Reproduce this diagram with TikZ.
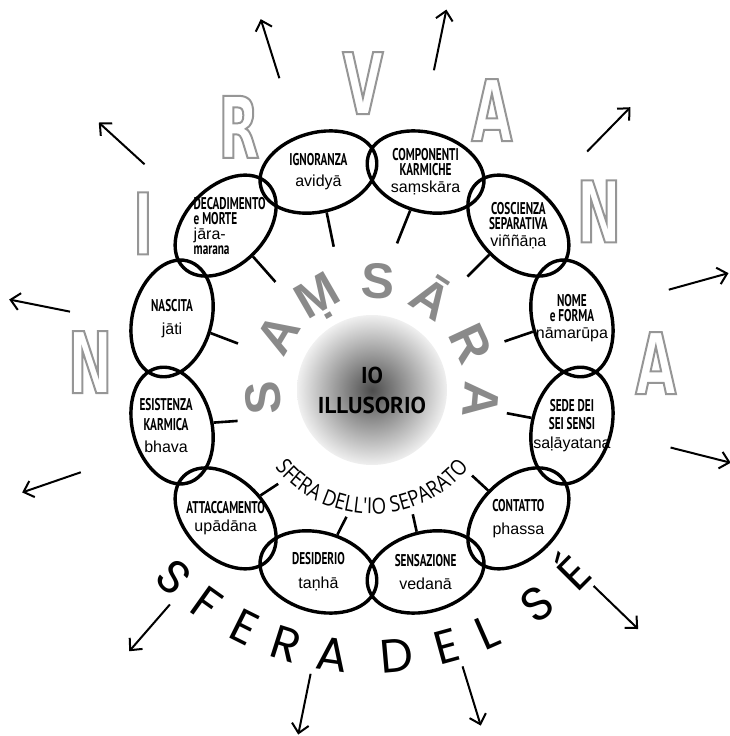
\documentclass[tikz,border=0pt]{standalone}
\usepackage{fontspec}
\usepackage{xcolor}
\usepackage{tikz}
\usetikzlibrary{arrows.meta, calc, decorations.text, shapes.geometric}
\setmainfont{Liberation Sans}
\newfontfamily\stagefont[FakeStretch=0.66]{PT Sans}
\newfontfamily\egofont{PT Sans}
\newfontfamily\sktfont{Liberation Sans}
\newfontfamily\rimfont[FakeStretch=0.62]{DejaVu Sans}
\newfontfamily\selffont{Poppins}
\newfontfamily\sepfont[FakeStretch=0.85]{Open Sans}
\newcommand{\stagecaps}{\fontsize{17}{15}\stagefont\bfseries}
\newcommand{\stageskt}{\fontsize{16}{15}\sktfont\mdseries}
% hollow letters: stroke only, grey
\newcommand{\hollow}[1]{\special{pdf:literal direct 1 Tr 2 w 0.59 0.59 0.59 RG}#1\special{pdf:literal direct 0 Tr}}
\definecolor{samgray}{RGB}{138,138,138}
\definecolor{nirgray}{RGB}{150,150,150}
\tikzset{
    stage/.style={ellipse, draw=black, line width=3.4pt, minimum width=79pt, minimum height=119pt, inner sep=0pt},
    stagetext/.style={align=center, inner sep=0pt, font=\stagecaps},
    spoke/.style={line width=2.6pt},
    ray/.style={line width=2pt, -{Straight Barb[length=9pt, width=17pt, line width=2pt]}},
    samletter/.style={text=samgray, font=\fontsize{50}{50}\sktfont\bfseries, text height=36pt, text depth=0pt, inner sep=0pt},
    nirletter/.style={text=nirgray, font=\fontsize{85}{85}\rimfont\bfseries, inner sep=0pt},
    selfletter/.style={font=\fontsize{47}{47}\selffont, text height=33pt, text depth=0pt, inner sep=0pt}
}

\begin{document}
\begin{tikzpicture}[x=1pt, y=1pt]
    \useasboundingbox (0,0) rectangle (729,736);
    \coordinate (R) at (372,364);
    \coordinate (G) at (372,346);

    % central sphere
    \node [circle, minimum size=150pt, inner sep=0pt, inner color=black!70, outer color=black!6] (core) at (G) {};
    \node [font=\fontsize{23}{30}\egofont\bfseries, align=center, inner sep=0pt] (ego) at (G) {IO\\ILLUSORIO};

    % the twelve links
    \foreach \ang [count=\i] in {105,75,45,15,-15,-45,-75,-105,-135,-165,165,135}
        \node [stage, rotate=\ang] (e\i) at ($(R)+(\ang:207)$) {};

    \node [stagetext] (t1) at (e1.center) {IGNORANZA\\[6pt]\stageskt avidyā};
    \node [stagetext] (t2) at (e2.center) {COMPONENTI\\KARMICHE\\[2pt]\stageskt saṃskāra};
    \node [stagetext] (t3) at (e3.center) {COSCIENZA\\SEPARATIVA\\[2pt]\stageskt viññāṇa};
    \node [stagetext] (t4) at (e4.center) {NOME\\e FORMA\\[2pt]\stageskt nāmarūpa};
    \node [stagetext] (t5) at (e5.center) {SEDE DEI\\[3pt]SEI SENSI\\[4pt]\stageskt saḷāyatana};
    \node [stagetext] (t6) at (e6.center) {CONTATTO\\[8pt]\stageskt phassa};
    \node [stagetext] (t7) at (e7.center) {SENSAZIONE\\[8pt]\stageskt vedanā};
    \node [stagetext] (t8) at (e8.center) {DESIDERIO\\[9pt]\stageskt taṇhā};
    \node [stagetext] (t9) at (e9.center) {ATTACCAMENTO\\[3pt]\stageskt upādāna};
    \node [stagetext] (t10) at ([xshift=-6pt]e10.center) {ESISTENZA\\[5pt]KARMICA\\[7pt]\stageskt bhava};
    \node [stagetext] (t11) at (e11.center) {NASCITA\\[8pt]\stageskt jāti};
    \node [stagetext, align=left] (t12) at ([xshift=4pt]e12.center) {DECADIMENTO\\e MORTE\\\stageskt jāra-\\marana};

    % spokes towards the centre
    \foreach \i/\ang/\rin in {1/107/131, 2/79/131, 3/45/135, 4/13/136, 5/-17/141, 6/-46/144, 7/-74/148, 8/-100/147, 9/-130/146, 10/-160/143, 11/168/137, 12/137/132} {
        \coordinate (s\i) at ($(R)+(\ang:\rin)$);
        \draw [spoke] (s\i) -- (e\i);
    }

    % rays
    \foreach \ang [count=\i] in {107.5,78.4,45.7,15.5,-14.2,-44,-72.9,-101.5,-131,-161,168.7,137.6} {
        \coordinate (a\i) at ($(R)+(\ang:308)$);
        \coordinate (b\i) at ($(R)+(\ang:370)$);
        \draw [ray] (a\i) -- (b\i);
    }

    % SAMSARA
    \foreach \ang/\ltr [count=\i] in {184/S, 149/A, 120/Ṃ, 87/S, 57/Ā, 25/R, -5/A}
        \node [samletter, rotate=\ang-90] (sam\i) at ($(G)+(\ang:110)$) {\ltr};

    % NIRVANA
    \foreach \ang/\rad/\ltr [count=\i] in {178/282/N, 147/273/I, 118.5/279/R, 91.8/289/V, 65.4/288/A, 35.3/278/N, 1.8/284/A}
        \node [nirletter] (nir\i) at ($(R)+(\ang:\rad)$) {\hollow{\ltr}};

    % SFERA DEL SE
    \foreach \ang/\ltr [count=\i] in {-134/S, -125.5/F, -116.5/E, -107.6/R, -98/A, -85/D, -74.7/E, -66.2/L, -54.5/S, -44.9/É}
        \node [selfletter, rotate=\ang+90] (self\i) at ($(R)+(\ang:285)$) {\ltr};

    % inner arc text
    \path [decorate, decoration={text along path, text align=center,
        text={|\fontsize{22}{22}\sepfont|SFERA DELL'IO SEPARATO}}]
        ($(G)+(-152:124)$) arc [start angle=-152, end angle=-28, radius=124];
\end{tikzpicture}
\end{document}
